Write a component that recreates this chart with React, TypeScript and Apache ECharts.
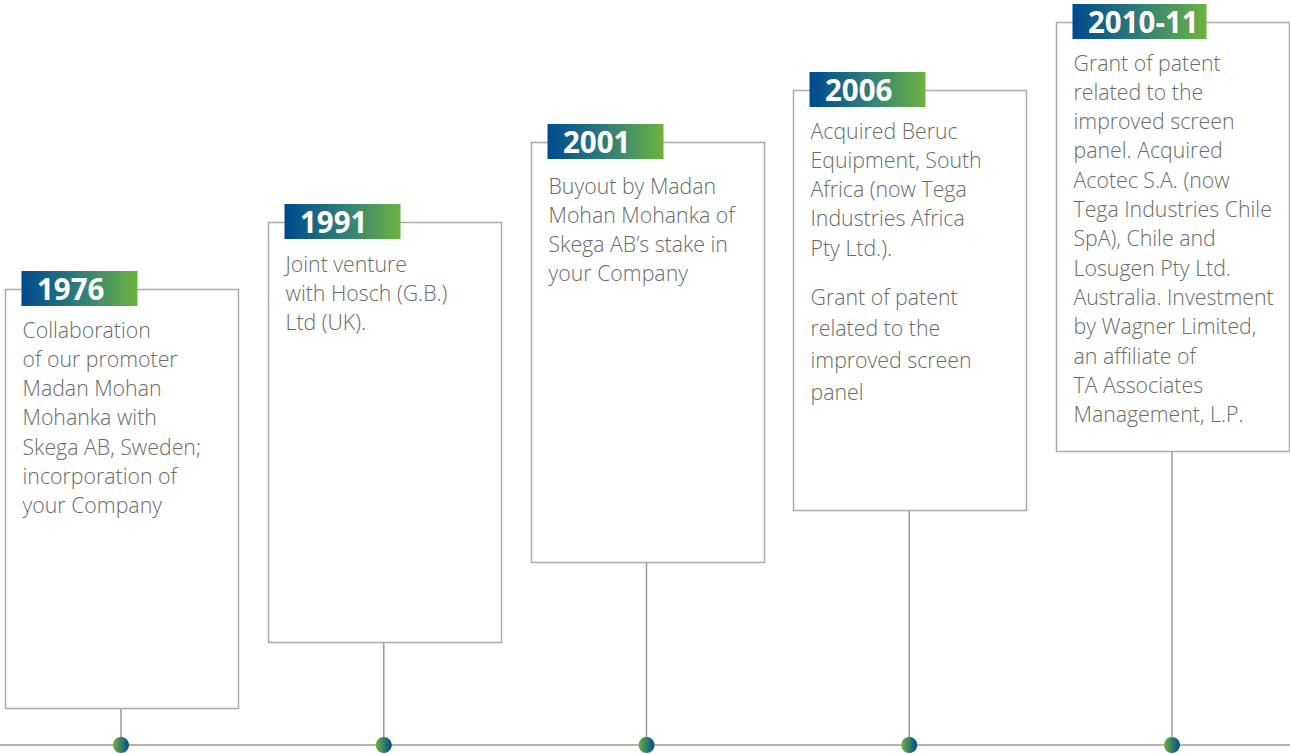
import React, { useEffect, useRef } from "react";
import * as echarts from "echarts";

// ---- data ----
const years: string[] = ["1976", "1991", "2001", "2006", "2010-11"];
const descriptions: string[][] = [
  [
    "Collaboration\nof our promoter\nMadan Mohan\nMohanka with\nSkega AB, Sweden;\nincorporation of\nyour Company",
  ],
  ["Joint venture\nwith Hosch (G.B.)\nLtd (UK)."],
  ["Buyout by Madan\nMohan Mohanka of\nSkega AB\u2019s stake in\nyour Company"],
  [
    "Acquired Beruc\nEquipment, South\nAfrica (now Tega\nIndustries Africa\nPty Ltd.).",
    "Grant of patent\nrelated to the\nimproved screen\npanel",
  ],
  [
    "Grant of patent\nrelated to the\nimproved screen\npanel. Acquired\nAcotec S.A. (now\nTega Industries Chile\nSpA), Chile and\nLosugen Pty Ltd.\nAustralia. Investment\nby Wagner Limited,\nan affiliate of\nTA Associates\nManagement, L.P.",
  ],
];
const eventIndex: number[] = [0, 1, 2, 3, 4];

// ---- layout (pixels, not data) ----
const boxTops = [289, 222, 142, 90, 22];
const boxBottoms = [708, 642, 562, 510, 451];
const textOffsets = [40, 41, 43, 40, 40];
const labelWidths = [116, 116, 116, 116, 134];
const BOX_LEFT_OFF = 116;
const BOX_W = 233;
const LINE_H = 29.3;
const PARA2_LINE_H = 31.7;
const FONT = "'Open Sans', 'Noto Sans', sans-serif";

export default function App() {
  const ref = useRef<HTMLDivElement>(null);
  useEffect(() => {
    document.body.style.margin = "0";
    const chart = echarts.init(ref.current!, null, { renderer: "svg" });
    const step = 262.75;
    chart.setOption({
      animation: false,
      backgroundColor: "#ffffff",
      grid: { left: 0, right: 0, top: 0, bottom: 9 },
      xAxis: {
        type: "value",
        min: -121 / step,
        max: 4 + (1290 - 1172) / step,
        axisLine: { show: true, onZero: false, lineStyle: { color: "#9a9a9a", width: 1.5 } },
        axisTick: { show: false },
        axisLabel: { show: false },
        splitLine: { show: false },
      },
      yAxis: {
        type: "value",
        min: 0,
        max: 1,
        show: false,
      },
      series: [
        {
          type: "custom",
          data: eventIndex.map((i) => [i, 0]),
          clip: false,
          renderItem: (params: any, api: any) => {
            const i = params.dataIndex;
            const [cx, by] = api.coord([api.value(0), api.value(1)]);
            const top = boxTops[i];
            const bottom = boxBottoms[i];
            const left = Math.round(cx) - BOX_LEFT_OFF + 0.5;
            const children: any[] = [];
            // connector
            children.push({
              type: "line",
              shape: { x1: cx, y1: bottom, x2: cx, y2: by },
              style: { stroke: "#9a9a9a", lineWidth: 1.5 },
            });
            // box
            children.push({
              type: "rect",
              shape: { x: left, y: top + 0.5, width: BOX_W, height: bottom - top },
              style: { fill: "#ffffff", stroke: "#ababab", lineWidth: 1.5 },
            });
            // label
            const lx = left + 16;
            const lw = labelWidths[i];
            children.push({
              type: "rect",
              shape: { x: lx, y: top - 18, width: lw, height: 35 },
              style: {
                fill: {
                  type: "linear",
                  x: 0, y: 0, x2: 1, y2: 0,
                  colorStops: [
                    { offset: 0, color: "#004a8f" },
                    { offset: 0.5, color: "#2f7d79" },
                    { offset: 1, color: "#6cb33f" },
                  ],
                },
              },
            });
            children.push({
              type: "text",
              style: {
                x: lx + 15.5,
                y: top - 0.5,
                text: years[i],
                fill: "#ffffff",
                font: `700 29.5px ${FONT}`,
                verticalAlign: "middle",
                align: "left",
              },
            });
            // description paragraphs
            let y = top + textOffsets[i] - LINE_H / 2;
            descriptions[i].forEach((para, p) => {
              const lh = p === 0 ? LINE_H : PARA2_LINE_H;
              const lines = para.split("\n").length;
              children.push({
                type: "text",
                style: {
                  x: left + 17,
                  y,
                  text: para,
                  fill: "#6a6a6a",
                  font: `300 21.3px ${FONT}`,
                  lineHeight: lh,
                  verticalAlign: "top",
                  align: "left",
                },
              });
              y += lines * lh + 18.5;
            });
            // dot
            children.push({
              type: "circle",
              shape: { cx, cy: by, r: 8 },
              style: {
                fill: {
                  type: "linear",
                  x: 0, y: 0, x2: 1, y2: 0,
                  colorStops: [
                    { offset: 0, color: "#6cb33f" },
                    { offset: 1, color: "#004a8f" },
                  ],
                },
              },
            });
            return { type: "group", children };
          },
        },
      ],
    });
    return () => chart.dispose();
  }, []);
  return <div ref={ref} style={{ width: 1290, height: 754 }} />;
}
